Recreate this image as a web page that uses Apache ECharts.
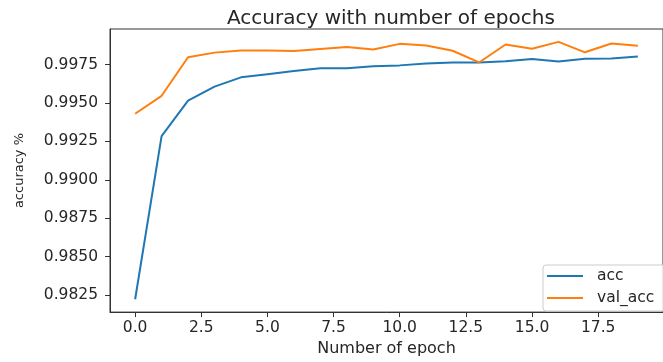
<!DOCTYPE html>
<html>
<head>
<meta charset="utf-8">
<script src="https://cdn.jsdelivr.net/npm/echarts@6/dist/echarts.min.js"></script>
<style>
  html, body { margin: 0; padding: 0; background: #fff; }
  #chart { width: 663px; height: 362px; }
</style>
</head>
<body>
<div id="chart"></div>
<script>
const epochs = [0, 1, 2, 3, 4, 5, 6, 7, 8, 9, 10, 11, 12, 13, 14, 15, 16, 17, 18, 19];
const acc = [0.98223, 0.99285, 0.99515, 0.99607, 0.99667, 0.99688, 0.99708, 0.99726, 0.99727, 0.99740,
             0.99745, 0.99758, 0.99764, 0.99763, 0.99772, 0.99787, 0.99771, 0.99788, 0.99789, 0.99803];
const valAcc = [0.99430, 0.99547, 0.99798, 0.99828, 0.99842, 0.99842, 0.99838, 0.99851, 0.99864, 0.99849,
                0.99885, 0.99874, 0.99840, 0.99764, 0.99881, 0.99853, 0.99898, 0.99830, 0.99887, 0.99872];
const xTicks = [0, 2.5, 5, 7.5, 10, 12.5, 15, 17.5];
const yTicks = [0.9825, 0.9850, 0.9875, 0.9900, 0.9925, 0.9950, 0.9975];

const allVals = acc.concat(valAcc);
const yMinD = Math.min(...allVals), yMaxD = Math.max(...allVals);
const yPad = (yMaxD - yMinD) * 0.05;
const xPad = (epochs[epochs.length - 1] - epochs[0]) * 0.05;

const FONT = 'DejaVu Sans';
const TXT = '#262626';
const SPINE = '#333333';

const chart = echarts.init(document.getElementById('chart'), null, { renderer: 'canvas' });
chart.setOption({
  animation: false,
  backgroundColor: '#ffffff',
  title: {
    text: 'Accuracy with number of epochs',
    left: 222,
    top: 4,
    textStyle: { fontFamily: FONT, fontSize: 20, fontWeight: 'normal', color: TXT }
  },
  grid: {
    left: 110, top: 29, bottom: 45, right: -12,
    show: true, borderColor: SPINE, borderWidth: 1, backgroundColor: 'transparent'
  },
  legend: {
    orient: 'vertical',
    left: 543, top: 265,
    padding: [2, 24, 4, 4],
    itemGap: 4,
    itemWidth: 36, itemHeight: 2,
    icon: 'rect',
    borderColor: '#cccccc', borderWidth: 1, borderRadius: 3,
    backgroundColor: 'rgba(255,255,255,0.8)',
    textStyle: { fontFamily: FONT, fontSize: 15.5, color: TXT, padding: [0, 0, 0, 9], lineHeight: 18 },
    data: ['acc', 'val_acc']
  },
  xAxis: {
    type: 'value',
    min: epochs[0] - xPad,
    max: epochs[epochs.length - 1] + xPad,
    name: 'Number of epoch',
    nameLocation: 'middle',
    nameGap: 26,
    nameTextStyle: { fontFamily: FONT, fontSize: 16, color: TXT },
    axisLine: { show: true, onZero: false, lineStyle: { color: SPINE, width: 1 } },
    axisTick: { show: true, length: 5, lineStyle: { color: SPINE }, customValues: xTicks },
    axisLabel: {
      fontFamily: FONT, fontSize: 15.5, color: TXT, margin: 8,
      customValues: xTicks,
      formatter: v => v.toFixed(1)
    },
    splitLine: { show: false }
  },
  yAxis: {
    type: 'value',
    min: yMinD - yPad,
    max: yMaxD + yPad,
    name: 'accuracy %',
    nameLocation: 'middle',
    nameGap: 84,
    nameTextStyle: { fontFamily: FONT, fontSize: 13, color: TXT },
    axisLine: { show: true, onZero: false, lineStyle: { color: SPINE, width: 1 } },
    axisTick: { show: true, length: 5, lineStyle: { color: SPINE }, customValues: yTicks },
    axisLabel: {
      fontFamily: FONT, fontSize: 15.5, color: TXT, margin: 12,
      customValues: yTicks,
      formatter: v => v.toFixed(4)
    },
    splitLine: { show: false }
  },
  series: [
    {
      name: 'acc', type: 'line',
      data: epochs.map((e, i) => [e, acc[i]]),
      showSymbol: false, symbol: 'none',
      lineStyle: { color: '#1f77b4', width: 2 },
      itemStyle: { color: '#1f77b4' }
    },
    {
      name: 'val_acc', type: 'line',
      data: epochs.map((e, i) => [e, valAcc[i]]),
      showSymbol: false, symbol: 'none',
      lineStyle: { color: '#ff7f0e', width: 2 },
      itemStyle: { color: '#ff7f0e' }
    }
  ]
});
</script>
</body>
</html>
